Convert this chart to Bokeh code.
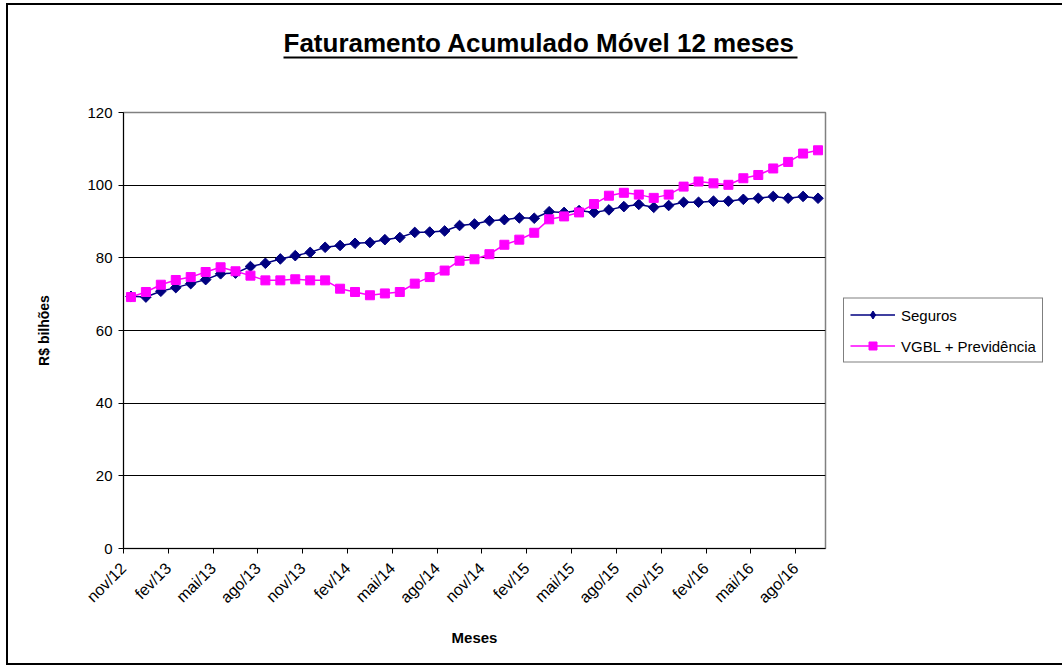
import math
from bokeh.plotting import figure
from bokeh.models import Range1d, FixedTicker, Legend, LegendItem, LinearAxis, Title
from bokeh.embed import file_html
from bokeh.resources import INLINE

# ---------------- data ----------------
months = ["nov/12", "dez/12", "jan/13", "fev/13", "mar/13", "abr/13", "mai/13",
          "jun/13", "jul/13", "ago/13", "set/13", "out/13", "nov/13", "dez/13",
          "jan/14", "fev/14", "mar/14", "abr/14", "mai/14", "jun/14", "jul/14",
          "ago/14", "set/14", "out/14", "nov/14", "dez/14", "jan/15", "fev/15",
          "mar/15", "abr/15", "mai/15", "jun/15", "jul/15", "ago/15", "set/15",
          "out/15", "nov/15", "dez/15", "jan/16", "fev/16", "mar/16", "abr/16",
          "mai/16", "jun/16", "jul/16", "ago/16", "set/16"]

seguros = [69.4, 69.2, 70.8, 71.8, 72.9, 74.0, 75.6, 75.8, 77.6, 78.5, 79.7, 80.6,
           81.5, 82.9, 83.4, 84.0, 84.2, 85.0, 85.6, 87.0, 87.1, 87.4, 88.9, 89.3,
           90.2, 90.5, 91.0, 90.9, 92.7, 92.5, 93.0, 92.5, 93.2, 94.1, 94.7, 93.9,
           94.4, 95.3, 95.3, 95.6, 95.6, 96.1, 96.4, 96.9, 96.4, 96.9, 96.4]

vgbl_prev = [69.2, 70.6, 72.6, 73.9, 74.7, 76.1, 77.4, 76.3, 75.1, 73.8, 73.8, 74.1,
             73.8, 73.8, 71.5, 70.6, 69.7, 70.2, 70.6, 72.9, 74.7, 76.5, 79.2, 79.6,
             81.0, 83.6, 85.0, 86.9, 90.6, 91.4, 92.5, 94.8, 97.1, 97.9, 97.4, 96.5,
             97.4, 99.6, 101.0, 100.5, 100.1, 101.9, 102.8, 104.6, 106.4, 108.7, 109.6]

tick_every = 3
y_ticks = [0, 20, 40, 60, 80, 100, 120]
grid_vals = [20, 40, 60, 80, 100]

series_names = ["Seguros", "VGBL + Previdência"]
series_colors = ["#000080", "#FF00FF"]
chart_title = "Faturamento Acumulado Móvel 12 meses"

FONT = "Liberation Sans"

# ---------------- layout constants ----------------
BL, FW, BR = 123, 702, 237
BT, FH, BB = 112, 436, 122
TITLE_CX = 540          # page x of the title centre
TITLE_HALF = 257        # half width of the underline
UNDERLINE_GAP = 55      # distance from underline to plot area top

n = len(months)
xs = [i + 0.5 for i in range(n)]
tick_pos = list(range(0, n - 1, tick_every))

p = figure(frame_width=FW, frame_height=FH,
           min_border_left=BL, min_border_right=BR,
           min_border_top=BT, min_border_bottom=BB,
           x_range=Range1d(0, n), y_range=Range1d(0, 120),
           output_backend="svg", toolbar_location=None, tools="")
p.title = None
p.background_fill_color = "white"
p.border_fill_color = None
p.outline_line_color = "#808080"
p.outline_line_width = 1.5

p.xgrid.visible = False
p.ygrid.ticker = FixedTicker(ticks=grid_vals)
p.ygrid.grid_line_color = "black"
p.ygrid.grid_line_width = 1

xa = p.xaxis[0]
xa.ticker = FixedTicker(ticks=tick_pos)
xa.major_label_overrides = {tp: months[tp] for tp in tick_pos}
xa.major_label_orientation = math.pi / 4
xa.major_label_text_font = FONT
xa.major_label_text_font_size = "16px"
xa.major_label_text_color = "black"
xa.major_tick_out = 5
xa.major_tick_in = 0
xa.minor_tick_line_color = None
xa.axis_line_color = "black"
xa.major_tick_line_color = "black"
xa.axis_label = "Meses"
xa.axis_label_text_font = FONT
xa.axis_label_text_font_style = "bold"
xa.axis_label_text_font_size = "15px"
xa.axis_label_text_color = "black"
xa.axis_label_standoff = 14
xa.major_label_standoff = 12

ya = p.yaxis[0]
ya.ticker = FixedTicker(ticks=y_ticks)
ya.major_label_text_font = FONT
ya.major_label_text_font_size = "15px"
ya.major_label_text_color = "black"
ya.major_tick_out = 5
ya.major_tick_in = 0
ya.minor_tick_line_color = None
ya.axis_line_color = "black"
ya.major_tick_line_color = "black"
ya.axis_label = "R$ bilhões"
ya.axis_label_text_font = FONT
ya.axis_label_text_font_style = "bold"
ya.axis_label_text_font_size = "14px"
ya.axis_label_text_color = "black"
ya.axis_label_standoff = 32
ya.major_label_standoff = 6

# series (diamond layer underneath supplies the legend symbol)
l1 = p.line(xs, seguros, line_color=series_colors[0], line_width=1.5)
d1 = p.scatter(xs, seguros, marker="diamond", size=8,
               fill_color=series_colors[0], line_color=series_colors[0])
m1 = p.scatter(xs, seguros, marker="square", angle=math.pi / 4, size=7.5,
               fill_color=series_colors[0], line_color=series_colors[0])
l2 = p.line(xs, vgbl_prev, line_color=series_colors[1], line_width=1.5)
m2 = p.scatter(xs, vgbl_prev, marker="square", size=9,
               fill_color=series_colors[1], line_color=series_colors[1])

legend = Legend(items=[LegendItem(label=series_names[0], renderers=[l1, d1]),
                       LegendItem(label=series_names[1], renderers=[l2, m2])],
                location="center_left", orientation="vertical",
                glyph_width=45, glyph_height=20, label_height=20,
                label_width=134, label_standoff=6, spacing=11, padding=6,
                margin=18,
                label_text_font=FONT, label_text_font_size="15px",
                label_text_color="black",
                border_line_color="black", border_line_width=1,
                background_fill_color="white", background_fill_alpha=1)
p.add_layout(legend, "right")

# ---------------- title + underline (above panel, stacked from the frame up) ----------------
px_per_unit = FW / n
u0 = (TITLE_CX - TITLE_HALF - BL) / px_per_unit
u1 = (TITLE_CX + TITLE_HALF - BL) / px_per_unit

spacer = LinearAxis(ticker=FixedTicker(ticks=[0]), axis_line_color=None,
                    major_tick_out=UNDERLINE_GAP, major_tick_in=0,
                    minor_tick_out=0, minor_tick_in=0,
                    major_tick_line_color=None, minor_tick_line_color=None,
                    major_label_overrides={0: ""}, major_label_standoff=0,
                    major_label_text_font_size="1px", major_label_text_alpha=0)
underline = LinearAxis(ticker=FixedTicker(ticks=[]), bounds=(u0, u1),
                       axis_line_color="black", axis_line_width=2,
                       major_tick_out=0, major_tick_in=0,
                       minor_tick_out=0, minor_tick_in=0,
                       major_tick_line_color=None, minor_tick_line_color=None,
                       major_label_text_font_size="0px")
title = Title(text=chart_title, align="left",
              offset=TITLE_CX - TITLE_HALF - BL,
              text_font=FONT, text_font_style="bold", text_font_size="26px",
              text_color="black", standoff=0)
p.add_layout(spacer, "above")
p.add_layout(underline, "above")
p.add_layout(title, "above")

shadow = ("inset 6px 0 0 0 #fff, inset 0 3px 0 0 #fff, inset 0 -5px 0 0 #fff, "
          "inset 8px 0 0 0 #000, inset 0 5px 0 0 #000, inset 0 -7px 0 0 #000")
p.styles = {"background-color": "white", "box-shadow": shadow}

open("out.html", "w").write(file_html(p, INLINE))
